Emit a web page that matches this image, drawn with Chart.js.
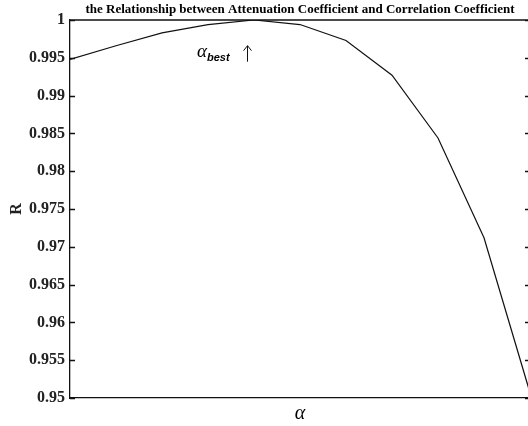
<!DOCTYPE html>
<html>
<head>
<meta charset="utf-8">
<script src="https://cdn.jsdelivr.net/npm/chart.js@4.4.1/dist/chart.umd.min.js"></script>
<style>
  html, body { margin: 0; padding: 0; background: #fff; overflow: hidden; }
  #wrap { width: 536px; height: 426px; }
</style>
</head>
<body>
<div id="wrap"><canvas id="rChart" width="536" height="426"></canvas></div>
<script>
// attenuation coefficient steps (no tick labels on the alpha axis)
const alphaSteps = [0, 1, 2, 3, 4, 5, 6, 7, 8, 9, 10];
// correlation coefficient R at each step
const rValues = [0.9948, 0.9966, 0.9983, 0.9994, 1.0000, 0.9994, 0.9973, 0.9927, 0.9844, 0.9712, 0.9507];
const rTicks = [0.95, 0.955, 0.96, 0.965, 0.97, 0.975, 0.98, 0.985, 0.99, 0.995, 1];
const bestStep = 4;

const serif = "'Liberation Serif', 'Times New Roman', serif";

// matlab-style box: top edge plus inward ticks on both sides, and the alpha_best note
const boxPlugin = {
    id: 'boxTicks',
    afterDraw(chart) {
        const ctx = chart.ctx;
        const area = chart.chartArea;
        const y = chart.scales.y;
        const x = chart.scales.x;
        ctx.save();
        ctx.strokeStyle = '#111';
        ctx.lineWidth = 1.3;
        ctx.beginPath();
        ctx.moveTo(area.left, area.top);
        ctx.lineTo(area.right, area.top);
        rTicks.forEach(t => {
            const py = Math.round(y.getPixelForValue(t)) + 0.5;
            ctx.moveTo(area.left, py);
            ctx.lineTo(area.left + 5, py);
            ctx.moveTo(area.right, py);
            ctx.lineTo(area.right - 5, py);
        });
        ctx.stroke();

        // alpha_best label with an up arrow next to the peak
        const px = x.getPixelForValue(bestStep);
        const baseY = y.getPixelForValue(0.99475);
        ctx.fillStyle = '#000';
        ctx.textBaseline = 'alphabetic';
        ctx.font = 'italic 19px ' + serif;
        ctx.textAlign = 'left';
        ctx.fillText('\u03b1', px - 57, baseY - 3);
        ctx.font = "bold italic 11px 'Liberation Sans', Arial, sans-serif";
        ctx.fillText('best', px - 47, baseY + 1);

        const ax = Math.round(px - 7) + 0.5;
        ctx.lineWidth = 1;
        ctx.beginPath();
        ctx.moveTo(ax, baseY + 2);
        ctx.lineTo(ax, baseY - 14);
        ctx.moveTo(ax - 4, baseY - 9);
        ctx.lineTo(ax, baseY - 14);
        ctx.lineTo(ax + 4, baseY - 9);
        ctx.stroke();
        ctx.restore();
    }
};

const ctx = document.getElementById('rChart').getContext('2d');
new Chart(ctx, {
    type: 'line',
    data: {
        datasets: [{
            data: alphaSteps.map((s, i) => ({ x: s, y: rValues[i] })),
            borderColor: '#111',
            borderWidth: 1.2,
            pointRadius: 0,
            tension: 0,
            fill: false
        }]
    },
    options: {
        responsive: false,
        animation: false,
        layout: { padding: { left: 0, right: 6, top: 0, bottom: 0 } },
        plugins: {
            legend: { display: false },
            tooltip: { enabled: false },
            title: {
                display: true,
                fullSize: false,
                text: 'the Relationship between Attenuation Coefficient and Correlation Coefficient',
                color: '#000',
                font: { family: serif, size: 13, weight: 'bold', lineHeight: 1.2 },
                padding: { top: 2, bottom: 2.4 }
            }
        },
        scales: {
            x: {
                type: 'linear',
                min: 0,
                max: 10,
                grid: { display: false },
                border: { display: true, color: '#111', width: 1.3 },
                ticks: { display: false },
                title: {
                    display: true,
                    text: '\u03b1',
                    color: '#000',
                    font: { family: serif, size: 20, style: 'italic', lineHeight: 1.2 },
                    padding: { top: 0, bottom: 0 }
                },
                afterFit: s => { s.height = 28; }
            },
            y: {
                min: 0.95,
                max: 1,
                afterBuildTicks: s => { s.ticks = rTicks.map(v => ({ value: v })); },
                grid: { display: false, drawTicks: false },
                border: { display: true, color: '#111', width: 1.3 },
                ticks: {
                    color: '#222',
                    padding: 5,
                    font: { family: serif, size: 16, weight: 'bold' },
                    callback: v => String(parseFloat(v.toFixed(3)))
                },
                title: {
                    display: true,
                    text: 'R',
                    color: '#222',
                    font: { family: serif, size: 16, weight: 'bold', lineHeight: 1.2 },
                    padding: { top: 7, bottom: 0 }
                },
                afterFit: s => { s.width = 70; }
            }
        }
    },
    plugins: [boxPlugin]
});
</script>
</body>
</html>
